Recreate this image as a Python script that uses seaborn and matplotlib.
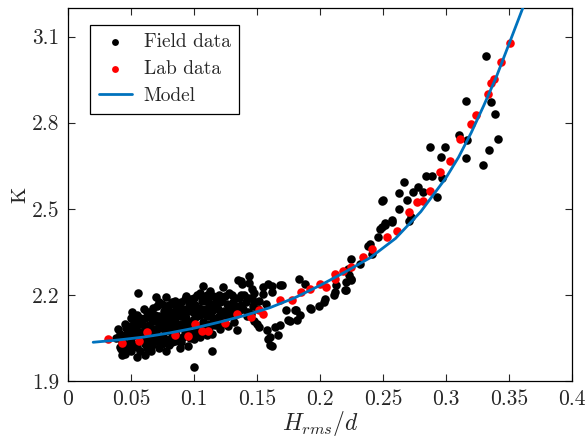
import numpy as np
import pandas as pd
import seaborn as sns
import matplotlib.pyplot as plt

# field data (black)
field_x = [
    0.038, 0.040, 0.041, 0.043, 0.042, 0.041,
    0.045, 0.046, 0.044, 0.047, 0.046, 0.045,
    0.050, 0.049, 0.051, 0.050, 0.052, 0.050, 0.0506,
    0.055, 0.056, 0.054, 0.055, 0.057, 0.055, 0.0545, 0.0553,
    0.060, 0.061, 0.059, 0.060, 0.062, 0.061, 0.061, 0.063,
    0.065, 0.066, 0.064, 0.066, 0.065, 0.067, 0.066,
    0.070, 0.071, 0.069, 0.070, 0.072, 0.071, 0.070, 0.072,
    0.075, 0.076, 0.074, 0.075, 0.077, 0.076, 0.075,
    0.078, 0.080, 0.081, 0.079, 0.080, 0.082, 0.081, 0.080, 0.078,
    0.085, 0.086, 0.084, 0.085, 0.087, 0.086, 0.085,
    0.090, 0.091, 0.089, 0.090, 0.092, 0.091, 0.090, 0.089,
    0.094, 0.096, 0.095, 0.094, 0.096, 0.095, 0.097, 0.095,
    0.100, 0.101, 0.099, 0.100, 0.102, 0.101, 0.100, 0.100,
    0.105, 0.107, 0.106, 0.104, 0.105, 0.107, 0.106, 0.105,
    0.110, 0.111, 0.109, 0.110, 0.112, 0.111, 0.110,
    0.115, 0.116, 0.114, 0.115, 0.117, 0.1146, 0.114,
    0.120, 0.121, 0.119, 0.120, 0.122, 0.123, 0.121,
    0.125, 0.126, 0.124, 0.125, 0.127,
    0.130, 0.131, 0.129, 0.130, 0.132, 0.134, 0.135,
    0.136, 0.137, 0.135, 0.137, 0.138,
    0.140, 0.141, 0.139, 0.142, 0.144, 0.144,
    0.146, 0.146, 0.147, 0.145, 0.148,
    0.150, 0.152, 0.152, 0.151, 0.155, 0.155, 0.157,
    # in-fill of the dense cloud
    0.0425, 0.0475, 0.0475, 0.0525, 0.0525, 0.0575, 0.0575, 0.0575,
    0.0625, 0.0625, 0.0625, 0.0675, 0.0675, 0.0675, 0.0675,
    0.0725, 0.0725, 0.0725, 0.0725, 0.0775, 0.0775, 0.0775, 0.0775,
    0.0825, 0.0825, 0.0825, 0.0825, 0.0875, 0.0875, 0.0875, 0.0875,
    0.0925, 0.0925, 0.0925, 0.0925, 0.0975, 0.0975, 0.0975, 0.0975,
    0.1025, 0.1025, 0.1025, 0.1025, 0.1075, 0.1075, 0.1075,
    0.1125, 0.1125, 0.1125, 0.1125, 0.1175, 0.1175, 0.1175,
    0.1225, 0.1225, 0.1225, 0.1275, 0.1275, 0.1275, 0.1325, 0.1325,
    0.1375, 0.1375, 0.1425, 0.1425, 0.1475, 0.1475,
    # sparser part
    0.159, 0.162, 0.170, 0.183, 0.188, 0.158, 0.159, 0.162, 0.167, 0.164,
    0.173, 0.175, 0.180, 0.184, 0.193, 0.199, 0.204, 0.212, 0.220, 0.221,
    0.225, 0.222, 0.225, 0.232, 0.238, 0.246, 0.248, 0.252, 0.257, 0.271,
    0.160, 0.160, 0.168, 0.176, 0.182, 0.181, 0.192, 0.168, 0.162, 0.203,
    0.211, 0.213, 0.221, 0.223, 0.225, 0.241, 0.240, 0.249, 0.249,
    0.332, 0.316, 0.336, 0.339, 0.310, 0.317, 0.341, 0.287, 0.299, 0.296,
    0.316, 0.334, 0.329, 0.284, 0.289, 0.297, 0.267, 0.263, 0.274, 0.278,
    0.282, 0.269, 0.293, 0.263, 0.250, 0.257, 0.252, 0.272,
]
field_y = [
    2.050, 2.080, 2.020, 1.990, 2.013, 2.065,
    2.100, 2.060, 2.040, 2.010, 2.085, 1.995,
    2.120, 2.090, 2.070, 2.050, 2.030, 2.005, 2.141,
    2.130, 2.110, 2.085, 2.060, 2.045, 2.020, 1.982, 2.207,
    2.152, 2.120, 2.100, 2.075, 2.050, 2.030, 1.990, 2.015,
    2.140, 2.120, 2.095, 2.070, 2.045, 2.025, 2.005,
    2.193, 2.160, 2.130, 2.110, 2.085, 2.060, 2.040, 2.015,
    2.170, 2.145, 2.120, 2.100, 2.075, 2.050, 2.030,
    2.193, 2.165, 2.140, 2.115, 2.095, 2.070, 2.045, 2.025, 2.005,
    2.180, 2.155, 2.130, 2.105, 2.085, 2.060, 2.040,
    2.175, 2.150, 2.125, 2.100, 2.080, 2.055, 2.035, 2.015,
    2.196, 2.170, 2.145, 2.120, 2.095, 2.070, 2.050, 2.022,
    2.190, 2.165, 2.140, 2.115, 2.090, 2.070, 2.045, 1.948,
    2.205, 2.231, 2.180, 2.155, 2.130, 2.105, 2.080, 2.055,
    2.200, 2.175, 2.150, 2.125, 2.100, 2.080, 2.060,
    2.195, 2.170, 2.145, 2.120, 2.095, 2.005, 2.065,
    2.200, 2.175, 2.150, 2.125, 2.100, 2.227, 2.080,
    2.195, 2.170, 2.145, 2.120, 2.090,
    2.200, 2.175, 2.150, 2.130, 2.105, 2.077, 2.251,
    2.190, 2.165, 2.140, 2.248, 2.239,
    2.200, 2.175, 2.150, 2.125, 2.265, 2.240,
    2.222, 2.190, 2.160, 2.135, 2.110,
    2.100, 2.089, 2.180, 2.150, 2.227, 2.204, 2.170,
    2.035, 2.075, 2.030, 2.110, 2.060, 2.120, 2.070, 2.005,
    2.140, 2.090, 2.060, 2.155, 2.110, 2.080, 2.035,
    2.175, 2.125, 2.095, 2.050, 2.160, 2.130, 2.090, 2.040,
    2.175, 2.125, 2.085, 2.035, 2.170, 2.140, 2.095, 2.050,
    2.185, 2.135, 2.110, 2.065, 2.185, 2.155, 2.105, 2.060,
    2.200, 2.150, 2.125, 2.080, 2.190, 2.140, 2.095,
    2.215, 2.160, 2.135, 2.090, 2.185, 2.155, 2.110,
    2.190, 2.140, 2.110, 2.205, 2.160, 2.130, 2.190, 2.160,
    2.200, 2.150, 2.190, 2.140, 2.205, 2.175,
    2.239, 2.210, 2.233, 2.257, 2.239, 2.077, 2.048, 2.022, 2.060, 2.089,
    2.147, 2.112, 2.147, 2.129, 2.152, 2.160, 2.187, 2.210, 2.216, 2.245,
    2.257, 2.291, 2.326, 2.308, 2.372, 2.401, 2.430, 2.442, 2.453, 2.459,
    2.054, 2.025, 2.094, 2.109, 2.114, 2.149, 2.155, 2.235, 2.232, 2.175,
    2.199, 2.233, 2.218, 2.268, 2.251, 2.343, 2.378, 2.436, 2.528,
    3.032, 2.876, 2.873, 2.829, 2.758, 2.739, 2.745, 2.716, 2.716, 2.682,
    2.677, 2.706, 2.653, 2.615, 2.615, 2.606, 2.592, 2.556, 2.560, 2.577,
    2.560, 2.531, 2.540, 2.498, 2.532, 2.461, 2.450, 2.470,
]

# lab data (red)
lab_x = [0.032, 0.043, 0.056, 0.063, 0.085, 0.095, 0.101, 0.106, 0.111, 0.125,
         0.134, 0.145, 0.152, 0.155, 0.168, 0.178, 0.185, 0.192, 0.200, 0.205,
         0.212, 0.212, 0.218, 0.225, 0.234, 0.241, 0.253, 0.261, 0.271, 0.277,
         0.282, 0.287, 0.295, 0.303, 0.311, 0.320, 0.324, 0.333, 0.336, 0.338,
         0.344, 0.351]
lab_y = [2.046, 2.034, 2.040, 2.071, 2.059, 2.056, 2.098, 2.075, 2.075, 2.102,
         2.132, 2.123, 2.147, 2.135, 2.181, 2.181, 2.210, 2.222, 2.239, 2.227,
         2.257, 2.274, 2.285, 2.297, 2.332, 2.361, 2.401, 2.424, 2.488, 2.523,
         2.528, 2.561, 2.627, 2.667, 2.743, 2.794, 2.827, 2.899, 2.939, 2.954,
         3.012, 3.078]

# model curve
model_x = [0.02, 0.04, 0.06, 0.08, 0.10, 0.12, 0.14, 0.16, 0.18, 0.20, 0.22,
           0.24, 0.26, 0.28, 0.30, 0.31, 0.32, 0.33, 0.34, 0.35, 0.361]
model_y = [2.035, 2.043, 2.053, 2.067, 2.084, 2.105, 2.128, 2.155, 2.190, 2.233,
           2.280, 2.330, 2.397, 2.490, 2.608, 2.680, 2.765, 2.860, 2.960, 3.074, 3.200]

xticks = [0, 0.05, 0.1, 0.15, 0.2, 0.25, 0.3, 0.35, 0.4]
xtick_labels = ['0', '0.05', '0.1', '0.15', '0.2', '0.25', '0.3', '0.35', '0.4']
yticks = [1.9, 2.2, 2.5, 2.8, 3.1]
ytick_labels = ['1.9', '2.2', '2.5', '2.8', '3.1']

sns.set_style('ticks')
plt.rcParams['font.family'] = ['cmr10', 'DejaVu Serif']
plt.rcParams['mathtext.fontset'] = 'cm'
plt.rcParams['axes.formatter.use_mathtext'] = True

fig = plt.figure(figsize=(5.87, 4.42), dpi=100)
ax = fig.add_axes([0.1158, 0.138, 0.8586, 0.844])

field = pd.DataFrame({'x': field_x, 'y': field_y})
lab = pd.DataFrame({'x': lab_x, 'y': lab_y})
model = pd.DataFrame({'x': model_x, 'y': model_y})

sns.scatterplot(data=field, x='x', y='y', color='black', s=38, linewidth=0,
                label='Field data', ax=ax, zorder=2)
sns.scatterplot(data=lab, x='x', y='y', color='red', s=38, linewidth=0,
                label='Lab data', ax=ax, zorder=3)
sns.lineplot(data=model, x='x', y='y', color='#0072BD', linewidth=2.0,
             label='Model', ax=ax, zorder=4, sort=False)

ax.set_xlim(0, 0.4)
ax.set_ylim(1.9, 3.2)
ax.set_xticks(xticks)
ax.set_xticklabels(xtick_labels)
ax.set_yticks(yticks)
ax.set_yticklabels(ytick_labels)
ax.tick_params(direction='in', top=True, right=True, length=5, width=0.8,
               labelsize=15.5, pad=6)
for s in ax.spines.values():
    s.set_linewidth(0.9)
    s.set_color('black')

ax.set_xlabel('$H_{rms}/d$', fontsize=17, labelpad=0)
ax.set_ylabel('K', fontsize=15, labelpad=2)

leg = ax.legend(loc='upper left', bbox_to_anchor=(0.044, 0.955), fontsize=14,
                fancybox=False, framealpha=1, edgecolor='black',
                handlelength=1.7, handletextpad=0.6, borderpad=0.45,
                labelspacing=0.45, borderaxespad=0, markerscale=0.8)
leg.get_frame().set_linewidth(0.9)

fig.savefig('out.png', dpi=100)
